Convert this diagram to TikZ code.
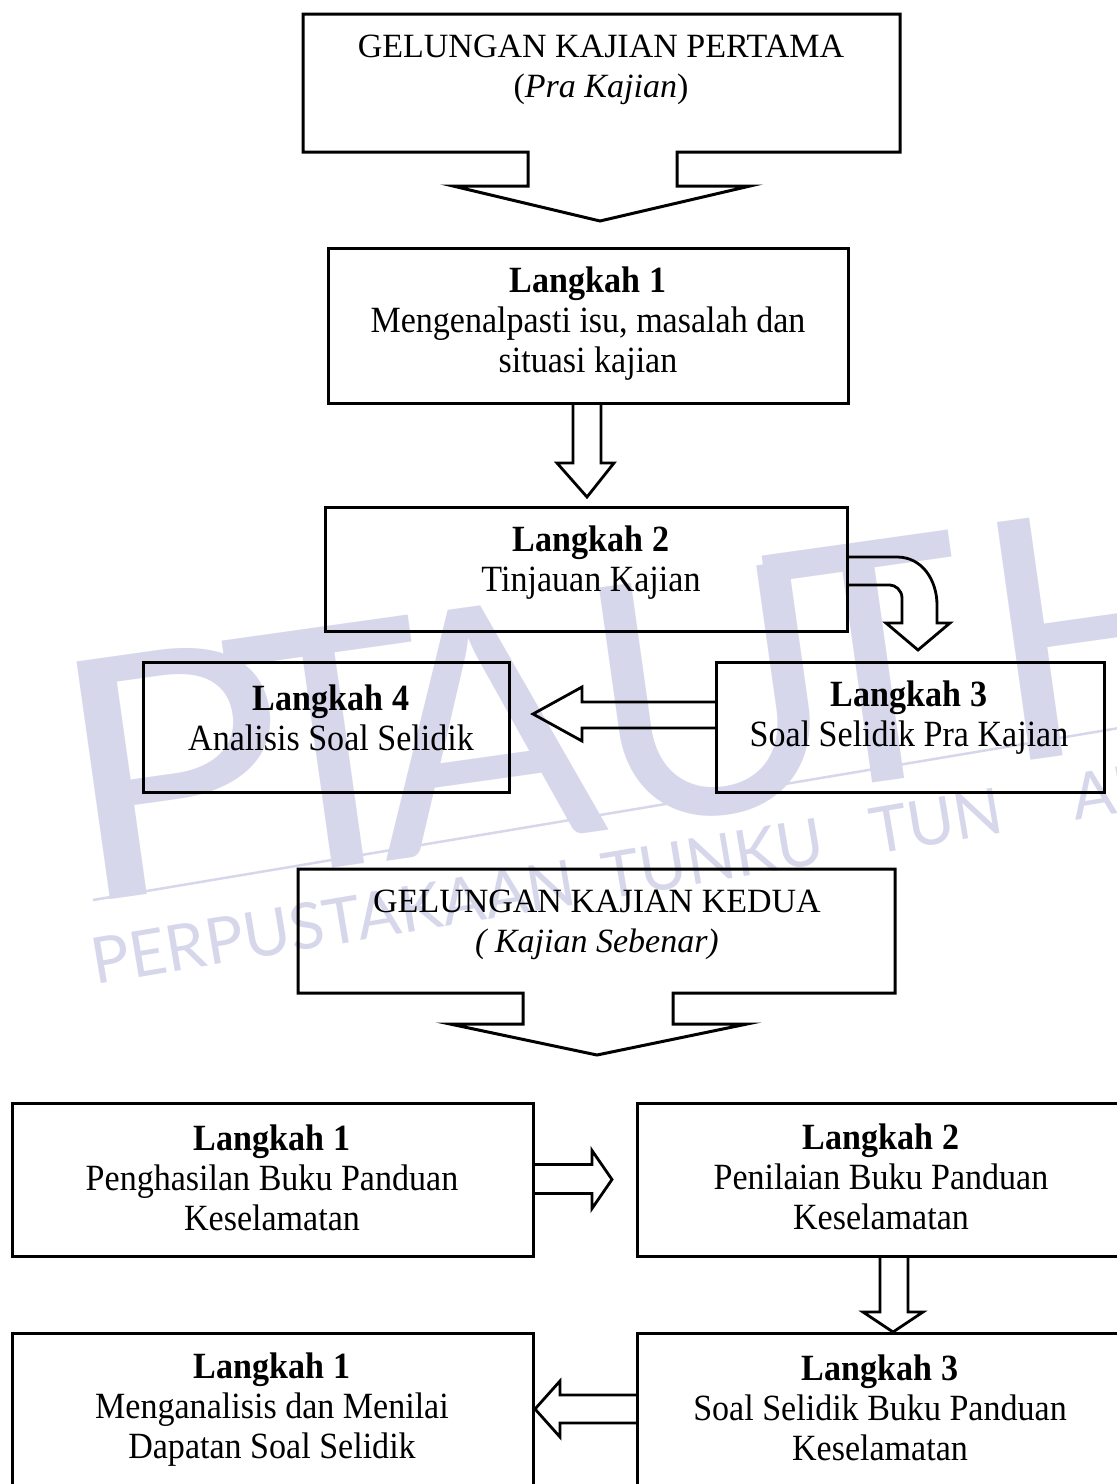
\documentclass[tikz,border=0pt]{standalone}
\usepackage{fontspec}
\setmainfont{Liberation Serif}
\newfontfamily\condfont[FakeStretch=0.92]{Liberation Serif}
\newfontfamily\wmfont{Lato}
\usetikzlibrary{calc,fit}
\definecolor{wm}{RGB}{215,215,236}
\begin{document}
\begin{tikzpicture}[x=1pt,y=-1pt,
  boxline/.style={draw, line width=3pt, line join=miter},
  frame/.style={draw, line width=3pt, inner sep=0pt, outer sep=0pt},
  area/.style={inner sep=0pt, outer sep=0pt},
  blk/.style={draw, line width=2.8pt, line join=miter},
  titletxt/.style={align=center, font=\fontsize{34}{40}\selectfont, inner sep=0pt},
  steptxt/.style={align=center, font=\condfont\fontsize{37}{40}\selectfont, inner sep=0pt},
  wmletter/.style={text=wm, font=\wmfont\fontsize{335}{335}\selectfont, inner sep=0pt, anchor=base west, rotate=8},
  wmsmall/.style={text=wm, font=\wmfont\fontsize{64}{64}\selectfont, inner sep=0pt, anchor=base west, rotate=9.5},
]
\useasboundingbox (0,0) rectangle (1117,1484);
\clip (0,0) rectangle (1117,1484);

% watermark
\node[wmletter, xscale=1.15] (wP) at (75,905) {P};
\node[wmletter] (wT1) at (250,880) {T};
\node[wmletter] (wA) at (385,862) {A};
\node[wmletter] (wU) at (605,830) {U};
\node[wmletter] (wT2) at (790,795) {T};
\node[wmletter] (wH) at (1000,765) {H};
\coordinate (wl1) at (93,900);
\coordinate (wl2) at (1125,727);
\draw[wm, line width=2.5pt] (wl1) -- (wl2);
\node[wmsmall] (wtext) at (95,985) {PERPUSTAKAAN\hspace{28pt}TUNKU\hspace{48pt}TUN\hspace{70pt}AMINAH};

% boxes
\node[area, fit={(303,14) (900,152)}] (g1) {};
\node[frame, fit={(328,248) (848,403)}] (b1) {};
\node[frame, fit={(325,507) (847,631)}] (b2) {};
\node[frame, fit={(143,662) (509,792)}] (b4) {};
\node[frame, fit={(716,662) (1104,792)}] (b3) {};
\node[area, fit={(298,869) (895,993)}] (g2) {};
\node[frame, fit={(12,1103) (533,1256)}] (c1) {};
\node[frame, fit={(637,1103) (1125,1256)}] (c2) {};
\node[frame, fit={(12,1333) (533,1515)}] (c4) {};
\node[frame, fit={(637,1333) (1125,1515)}] (c3) {};

% texts
\node[titletxt] (g1t) at (601,70) {GELUNGAN KAJIAN PERTAMA\\(\textit{Pra Kajian})};
\node[steptxt] (b1t) at (588,324) {\textbf{Langkah 1}\\Mengenalpasti isu, masalah dan\\situasi kajian};
\node[steptxt] (b2t) at (591,563) {\textbf{Langkah 2}\\Tinjauan Kajian};
\node[steptxt] (b4t) at (331,718) {\textbf{Langkah 4}\\Analisis Soal Selidik};
\node[steptxt] (b3t) at (909,718) {\textbf{Langkah 3}\\Soal Selidik Pra Kajian};
\node[titletxt] (g2t) at (597,925) {GELUNGAN KAJIAN KEDUA\\\textit{( Kajian Sebenar)}};
\node[steptxt] (c1t) at (272,1178) {\textbf{Langkah 1}\\Penghasilan Buku Panduan\\Keselamatan};
\node[steptxt] (c2t) at (881,1177) {\textbf{Langkah 2}\\Penilaian Buku Panduan\\Keselamatan};
\node[steptxt] (c4t) at (272,1410) {\textbf{Langkah 1}\\Menganalisis dan Menilai\\Dapatan Soal Selidik};
\node[steptxt] (c3t) at (880,1408) {\textbf{Langkah 3}\\Soal Selidik Buku Panduan\\Keselamatan};

% title box 1 with arrow
\path (g1.south) ++(-73.5,0) coordinate (a1L);
\path (g1.south) ++(75.5,0) coordinate (a1R);
\draw[boxline] (g1.south west) |- (g1.north east) |- (a1R) -- ++(0,34) -- ++(73,0)
  -- ($(g1.south)+(-1.5,69)$) -- ($(a1L)+(-75,34)$) -- ++(75,0) -- (a1L) -- cycle;

% b1 -> b2
\draw[blk] ($(b1.south)+(-15,0)$) -- ++(0,60) -- ++(-16,0) -- ($(b2.north)+(1,-10)$)
  -- ($(b1.south)+(26,60)$) -- ++(-13,0) -- ($(b1.south)+(13,0)$);

% b2 -> b3 (curved)
\draw[blk] ($(b2.east)+(0,-12)$) -- ++(50,0) .. controls +(25,0) and +(0,-25) .. ++(40,48)
  -- ++(0,18) -- ++(13,0) -- ($(b3.north)+(8,-12)$) -- ++(-32,-27) -- ++(16,0) -- ++(0,-25)
  .. controls +(0,-8) and +(5,0) .. ++(-12,-13) -- ($(b2.east)+(0,16)$);

% b3 -> b4
\draw[blk] ($(b3.west)+(0,-25)$) -- ++(-134,0) -- ++(0,-15) -- ($(b4.east)+(24,-13)$)
  -- ($(b3.west)+(-134,14)$) -- ++(0,-13) -- ($(b3.west)+(0,1)$);

% title box 2 with arrow
\path (g2.south) ++(-73.5,0) coordinate (a5L);
\path (g2.south) ++(76.5,0) coordinate (a5R);
\draw[boxline] (g2.south west) |- (g2.north east) |- (a5R) -- ++(0,31) -- ++(74,0)
  -- ($(g2.south)+(0.5,62)$) -- ($(a5L)+(-73,31)$) -- ++(73,0) -- (a5L) -- cycle;

% c1 -> c2
\draw[blk] ($(c1.east)+(0,-15)$) -- ++(59,0) -- ++(0,-14) -- ($(c2.west)+(-25,0)$)
  -- ($(c1.east)+(59,29)$) -- ++(0,-15) -- ($(c1.east)+(0,14)$);

% c2 -> c3
\draw[blk] ($(c2.south)+(-1,0)$) -- ++(0,56) -- ++(-17,0) -- ($(c3.north)+(12,-1)$)
  -- ($(c2.south)+(42,56)$) -- ++(-15,0) -- ($(c2.south)+(27,0)$);

% c3 -> c4
\draw[blk] ($(c3.north west)+(0,62)$) -- ++(-77,0) -- ++(0,-14) -- ($(c4.north east)+(2,76)$)
  -- ($(c3.north west)+(-77,104)$) -- ++(0,-14) -- ($(c3.north west)+(0,90)$);
\end{tikzpicture}
\end{document}
